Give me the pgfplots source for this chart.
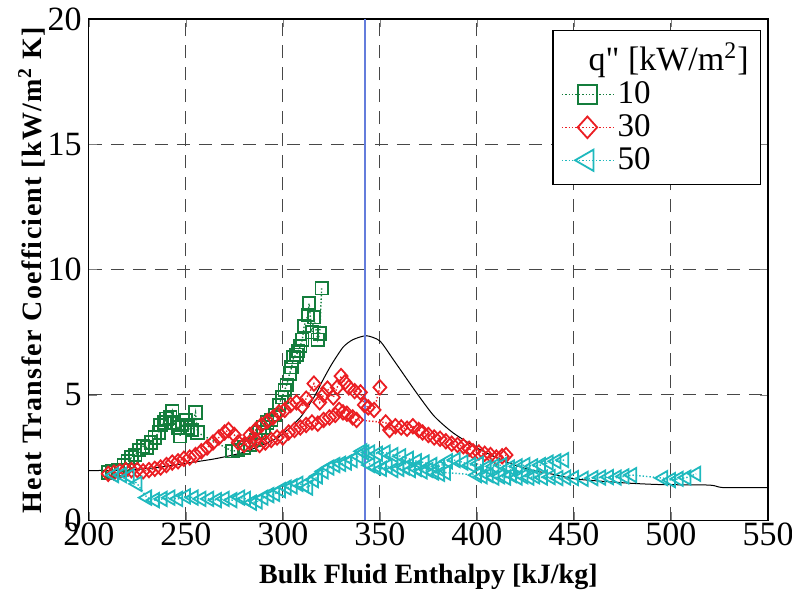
\documentclass[border=0pt]{standalone}
\usepackage{pgfplots}
\pgfplotsset{compat=1.18}
\usepackage{fontspec}
\setmainfont{Liberation Serif}
\newfontfamily\rawserif[Ligatures=ResetAll]{Liberation Serif}
\definecolor{cgreen}{RGB}{20,125,60}
\definecolor{cred}{RGB}{235,30,35}
\definecolor{ccyan}{RGB}{30,185,190}
\definecolor{cblue}{RGB}{100,125,220}
\begin{document}
\begin{tikzpicture}
\begin{axis}[
  scale only axis, width=339.6pt, height=250.6pt,
  xmin=200, xmax=550, ymin=0, ymax=20,
  xtick={200,250,...,550}, ytick={0,5,10,15,20},
  tick align=inside, major tick length=4pt,
  grid=major, major grid style={black!72, line width=0.5pt, dash pattern=on 6.5pt off 4.5pt},
  axis line style={black, line width=0.6pt},
  /pgf/number format/assume math mode=true,
  ticklabel style={font=\fontsize{17}{17}\selectfont},
  xticklabel style={yshift=2pt},
  xlabel={\textbf{Bulk Fluid Enthalpy [kJ/kg]}},
  ylabel={\textbf{\addfontfeatures{LetterSpace=5}Heat Transfer Coefficient [kW/m\textsuperscript{2} K]}},
  every axis x label/.style={at={(axis description cs:0.5,0)}, yshift=-28.5pt, anchor=center, font=\fontsize{14}{14}\selectfont},
  every axis y label/.style={at={(axis description cs:0,0.5)}, xshift=-28.5pt, rotate=90, anchor=center, font=\fontsize{14}{14}\selectfont},
  legend cell align=left,
  legend style={at={(0.99,0.978)}, anchor=north east, draw=black, line width=0.6pt,
    font=\fontsize{16.5}{17}\selectfont, row sep=0pt, inner sep=4pt},
  legend image code/.code={\draw[#1, mark repeat=2, mark phase=2, every mark/.append style={scale=1.5}] plot coordinates {(0cm,0cm) (0.45cm,0cm) (0.9cm,0cm)};},
]
\addlegendimage{legend image code/.code={}}
\addlegendentry{\fontsize{17}{17}\selectfont\hspace*{-14.5pt}q{\rawserif\symbol{34}} [kW/m\textsuperscript{2}]}
% 10 kW/m2
\addplot[cgreen, densely dotted, line width=0.7pt, mark=square, mark size=3.1pt, mark options={solid, line width=0.9pt}] coordinates {
(210,1.9)(212,1.95)(215,2.0)(218,2.2)(220,2.35)(222,2.5)(224,2.6)(226,2.8)(228,2.95)(230,2.9)
(232,3.1)(234,3.3)(236,3.5)(237,3.8)(239,3.9)(240,4.05)(242,4.1)(243,4.35)(244,3.9)(246,3.7)
(247,3.35)(248,3.8)(250,4.0)(251,3.7)(253,3.6)(255,4.3)(256,3.5)
(274,2.75)(277,2.8)(280,2.9)(283,3.0)(286,3.2)(288,3.5)(290,3.7)(292,3.9)(294,4.0)(296,4.2)
(298,4.6)(299.5,4.9)(301,5.2)(302,5.4)(303.5,5.85)(304.5,6.1)(305.5,6.5)(307,6.6)(308,6.75)(309,6.95)
(310,7.2)(311,7.75)(313,8.2)(313.5,8.65)(315,7.5)(316,8.1)(318,7.2)(319,7.45)(320,9.25)
};
\addlegendentry{10}
% 30 kW/m2
\addplot[cred, densely dotted, line width=0.7pt, mark=diamond, mark size=3.6pt, mark options={solid, line width=0.9pt, xscale=1.2}] coordinates {
(210,1.85)(213,1.9)(216,1.95)(219,2.0)(222,2.0)(225,2.0)(228,1.95)(231,2.0)(234,2.05)(237,2.1)
(240,2.2)(243,2.3)(246,2.35)(249,2.45)(252,2.5)(255,2.6)(258,2.75)(261,2.9)(264,3.1)(267,3.3)
(270,3.5)(272,3.6)(275,3.4)(277,3.1)(280,3.0)(283,3.1)(286,3.2)(288,3.0)(291,3.1)(294,3.2)
(297,3.3)(300,3.3)(303,3.5)(306,3.6)(309,3.7)(312,3.8)(315,3.9)(318,3.85)(321,4.0)(324,4.1)
(327,4.2)(329,4.4)(331,4.3)(333,4.25)(336,4.1)(338,4.0)
(353,3.9)(355,3.6)(358,3.75)(361,3.7)(364,3.65)(367,3.75)(370,3.6)(372,3.5)(375,3.4)(378,3.3)
(381,3.25)(384,3.15)(387,3.05)(390,3.0)(393,2.95)(396,2.85)(398,2.75)(401,2.7)(404,2.65)(407,2.6)
(410,2.5)(413,2.55)(415,2.6)
};
\addlegendentry{30}
% 50 kW/m2
\addplot[ccyan, densely dotted, line width=0.7pt, mark=triangle, mark size=4.1pt, mark options={solid, line width=0.9pt, rotate=90}] coordinates {
(213,1.8)(217,1.8)(221,1.75)(225,1.45)(230,0.9)(234,0.8)(238,0.85)(242,0.9)(246,0.85)(250,0.95)
(254,0.9)(258,0.85)(262,0.85)(266,0.8)(270,0.85)(274,0.8)(278,0.9)(281,0.85)(284,0.7)(287,0.75)
(290,0.9)(293,1.0)(296,1.05)(299,1.2)(302,1.3)(305,1.35)(308,1.45)(311,1.4)(313,1.3)(316,1.6)
(318,1.75)(321,1.95)(324,2.1)(327,2.2)(330,2.25)(333,2.3)(336,2.4)(339,2.55)(342,2.7)
(345,2.2)(348,2.1)(351,2.05)(354,2.15)(357,2.0)(360,2.05)(363,2.1)(366,2.0)(369,2.05)(372,1.95)
(375,2.0)(378,1.9)(381,1.85)(384,1.9)
(400,1.8)(403,1.75)(406,1.8)(409,1.7)(412,1.75)(415,1.7)(418,1.8)(421,1.7)(424,1.75)(427,1.7)
(430,1.75)(434,1.7)(438,1.72)(442,1.68)(446,1.7)(450,1.68)(455,1.65)(460,1.68)(464,1.7)(468,1.72)
(472,1.7)(476,1.75)(480,1.8)
(496,1.68)(500,1.6)(504,1.65)(508,1.7)(513,1.85)
};
\addlegendentry{50}
% second branches
\addplot[forget plot, cred, densely dotted, line width=0.7pt, mark=diamond, mark size=3.6pt, mark options={solid, line width=0.9pt, xscale=1.2}] coordinates {
(283,3.4)(286,3.6)(289,3.8)(292,3.95)(295,4.1)(298,4.3)(301,4.4)(304,4.6)(307,4.7)(310,4.55)
(312,4.85)(316,5.45)(319,4.7)(321,5.0)(323,5.25)(326,4.9)(328,5.3)(330,5.75)(332,5.5)(334,5.3)
(337,5.15)(340,5.1)(342,4.6)(344,4.5)(347,4.4)(350,5.3)
};
\addplot[forget plot, ccyan, densely dotted, line width=0.7pt, mark=triangle, mark size=4.1pt, mark options={solid, line width=0.9pt, rotate=90}] coordinates {
(341,2.75)(345,2.7)(349,2.65)(353,2.7)(357,2.6)(361,2.55)(365,2.45)(369,2.35)(373,2.3)(377,2.2)
(381,2.15)(385,2.35)(389,2.4)(393,2.3)(397,2.2)(401,2.25)(405,2.1)(409,2.15)(413,2.2)(417,2.1)
(421,2.15)(425,2.2)(429,2.15)(433,2.2)(437,2.3)(441,2.35)(445,2.4)
};
% model curve
\addplot[forget plot, black, line width=0.5pt, smooth, tension=0.4] coordinates {
(200,1.98)(220,2.0)(235,2.1)(250,2.27)(265,2.45)(278,2.67)(288,2.95)(295,3.2)(300,3.45)(309,4.1)
(316,4.9)(320,5.5)(325,6.2)(331,6.9)(336,7.2)(343,7.36)(350,7.15)(357,6.4)(369,5.07)(378,4.15)
(388,3.47)(402,2.8)(417,2.27)(428,2.0)(440,1.82)(450,1.65)(465,1.55)(480,1.47)(495,1.42)(520,1.4)
(527,1.3)(550,1.3)
};
% vertical line
\addplot[forget plot, cblue, line width=0.8pt] coordinates {(342.2,0)(342.2,20)};
\end{axis}
\pgfresetboundingbox
\path ([shift={(-44.4pt,-35.4pt)}]current axis.south west) rectangle ([shift={(12pt,9.5pt)}]current axis.north east);
\end{tikzpicture}
\end{document}
